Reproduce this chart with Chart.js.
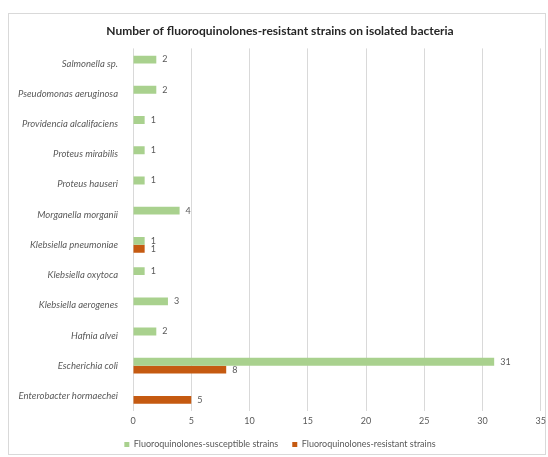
<!DOCTYPE html>
<html>
<head>
<meta charset="utf-8">
<script src="https://cdn.jsdelivr.net/npm/chart.js@4"></script>
<style>
  html, body { margin: 0; padding: 0; background: #fff; }
  #box { position: absolute; left: 8px; top: 13px; width: 538px; height: 442px; border: 1px solid #d9d9d9; box-sizing: border-box; }
</style>
</head>
<body>
<div id="box"><canvas id="chart" width="542" height="440"></canvas></div>
<script>
// Data definitions
const bacteria = ['Salmonella sp.', 'Pseudomonas aeruginosa', 'Providencia alcalifaciens', 'Proteus mirabilis', 'Proteus hauseri', 'Morganella morganii', 'Klebsiella pneumoniae', 'Klebsiella oxytoca', 'Klebsiella aerogenes', 'Hafnia alvei', 'Escherichia coli', 'Enterobacter hormaechei'];
const susceptibleData = [2, 2, 1, 1, 1, 4, 1, 1, 3, 2, 31, null];
const resistantData = [null, null, null, null, null, null, 1, null, null, null, 8, 5];
const xTicks = [0, 5, 10, 15, 20, 25, 30, 35];

// draws the value next to every bar
const valueLabels = {
  id: 'valueLabels',
  afterDatasetsDraw(chart) {
    const ctx = chart.ctx;
    ctx.save();
    ctx.font = '9px Lato';
    ctx.fillStyle = '#595959';
    ctx.textBaseline = 'middle';
    chart.data.datasets.forEach((ds, i) => {
      chart.getDatasetMeta(i).data.forEach((bar, j) => {
        if (ds.data[j] == null) return;
        ctx.fillText(ds.data[j], bar.x + 6, bar.y);
      });
    });
    ctx.restore();
  }
};

new Chart(document.getElementById('chart').getContext('2d'), {
  type: 'bar',
  data: {
    labels: bacteria,
    datasets: [{
      label: 'Fluoroquinolones-susceptible strains',
      data: susceptibleData,
      backgroundColor: '#a9d18e',
      categoryPercentage: 0.52,
      barPercentage: 1
    }, {
      label: 'Fluoroquinolones-resistant strains',
      data: resistantData,
      backgroundColor: '#c55a11',
      categoryPercentage: 0.52,
      barPercentage: 1
    }]
  },
  options: {
    indexAxis: 'y',
    responsive: false,
    animation: false,
    layout: { padding: { left: 0, right: 0, top: 0, bottom: 0 } },
    plugins: {
      title: {
        display: true,
        text: 'Number of fluoroquinolones-resistant strains on isolated bacteria',
        color: '#262626',
        font: { family: 'Lato', size: 12, weight: 'bold' },
        padding: { top: 10, bottom: 10 }
      },
      legend: {
        position: 'bottom',
        maxHeight: 28,
        labels: {
          boxWidth: 5,
          boxHeight: 5,
          color: '#595959',
          font: { family: 'Lato', size: 9 },
          padding: 14
        }
      },
      tooltip: { enabled: false }
    },
    scales: {
      x: {
        min: 0,
        max: 35,
        afterBuildTicks: axis => { axis.ticks = xTicks.map(v => ({ value: v })); },
        afterFit: axis => { axis.height = 15; },
        grid: { color: '#d9d9d9', drawTicks: false },
        border: { display: false },
        ticks: { color: '#595959', font: { family: 'Lato', size: 9 }, padding: 5 }
      },
      y: {
        afterFit: axis => { axis.width = 124; },
        grid: { display: false },
        border: { display: false },
        ticks: { color: '#595959', font: { family: 'Lato', size: 9.5, style: 'italic' }, padding: 7 }
      }
    }
  },
  plugins: [valueLabels]
});
</script>
</body>
</html>
